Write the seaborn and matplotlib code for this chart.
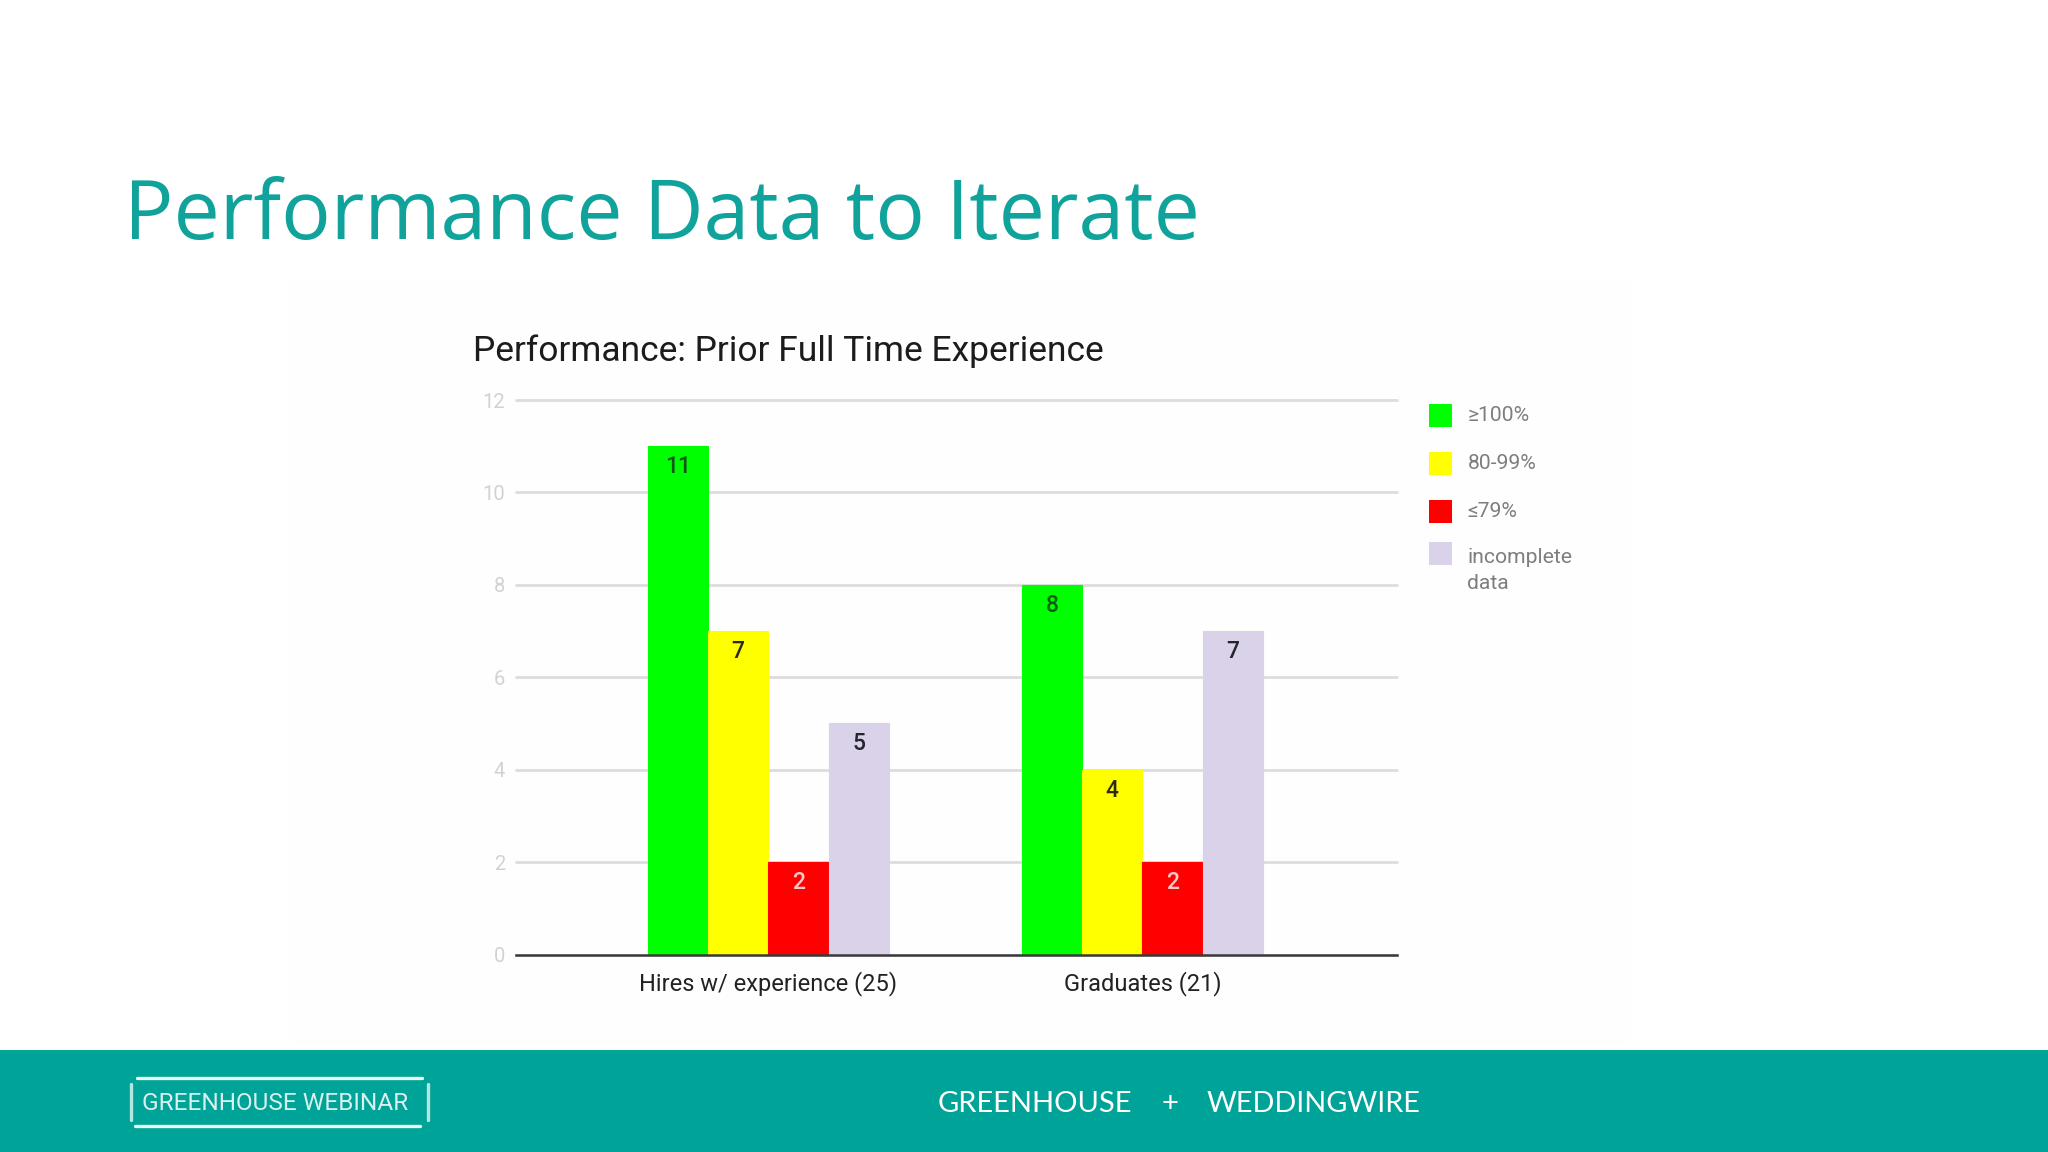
import matplotlib
matplotlib.use("Agg")
import matplotlib.pyplot as plt
from matplotlib.patches import Rectangle
from matplotlib.lines import Line2D
from matplotlib.legend_handler import HandlerPatch
import pandas as pd
import seaborn as sns

categories = ["Hires w/ experience (25)", "Graduates (21)"]
levels = ["≥100%", "80-99%", "≤79%", "incomplete\ndata"]
top_values = [11, 8]
mid_values = [7, 4]
low_values = [2, 2]
incomplete_values = [5, 7]
colors = ["#00FF00", "#FFFF00", "#FF0000", "#D9D2E9"]
label_colors = ["#0B5A14", "#2B2B10", "#FFC9C9", "#26242C"]
yticks = [0, 2, 4, 6, 8, 10, 12]

W, H = 2048, 1152
TEAL = "#00A398"

df = pd.DataFrame({
    "category": categories * 4,
    "level": [lv for lv in levels for _ in categories],
    "value": top_values + mid_values + low_values + incomplete_values,
})

sns.set_theme(style="white")
plt.rcParams["font.family"] = ["Roboto", "DejaVu Sans"]

fig = plt.figure(figsize=(W / 100, H / 100), dpi=100, facecolor="white")


def fx(x):
    return x / W


def fy(y):
    return 1 - y / H


# photo-like panel behind the chart and footer band
fig.patches.append(Rectangle((fx(290), fy(1045)), 1340 / W, 765 / H, transform=fig.transFigure,
                             facecolor="#FEFEFE", edgecolor="none", zorder=-5))
fig.patches.append(Rectangle((0, 0), 1, 102 / H, transform=fig.transFigure,
                             facecolor=TEAL, edgecolor="none", zorder=-4))

ax = fig.add_axes([fx(516), fy(954.5), 881 / W, 554.5 / H])
ax.patch.set_alpha(0)
sns.barplot(data=df, x="category", y="value", hue="level", hue_order=levels,
            order=categories, palette=colors, saturation=1, width=0.645, gap=0,
            legend=False, ax=ax)

for cont, lc in zip(ax.containers, label_colors):
    for p in cont:
        p.set_edgecolor(p.get_facecolor())
        p.set_linewidth(0.8)
        p.set_joinstyle("round")
    ax.bar_label(cont, label_type="edge", padding=-23, color=lc, fontsize=16.5,
                 fontweight="medium")

ax.set_xlim(-0.6745, 1.6805)
ax.set_ylim(0, 12)
ax.set_yticks(yticks)
ax.set_xlabel("")
ax.set_ylabel("")
for s in ["top", "left", "right"]:
    ax.spines[s].set_visible(False)
ax.spines["bottom"].set_color("#3A3A3A")
ax.spines["bottom"].set_linewidth(1.8)
ax.grid(axis="y", color="#DEDCDE", linewidth=2)
ax.grid(axis="x", visible=False)
ax.set_axisbelow(True)
for gl in ax.get_ygridlines():
    gl.set_clip_on(False)
ax.tick_params(axis="y", length=0, pad=8, labelsize=14.5, labelcolor="#D2D2D2")
ax.tick_params(axis="x", length=0, pad=12, labelsize=17, labelcolor="#222222")


class SwatchHandler(HandlerPatch):
    def __init__(self, lift=0, **kw):
        super().__init__(**kw)
        self.lift = lift

    def create_artists(self, legend, orig, xd, yd, w, h, fontsize, trans):
        r = Rectangle((-xd, -yd + self.lift - 2), w, w, facecolor=orig.get_facecolor(),
                      edgecolor="none", transform=trans)
        return [r]


handles = [Rectangle((0, 0), 1, 1, facecolor=c) for c in colors]
hmap = {h: SwatchHandler() for h in handles[:3]}
hmap[handles[3]] = SwatchHandler(lift=13.5)
leg = ax.legend(handles, levels, handler_map=hmap, loc="upper left",
                bbox_to_anchor=(fx(1429), fy(404)), bbox_transform=fig.transFigure,
                frameon=False, borderpad=0, borderaxespad=0, fontsize=15.2,
                handlelength=1.1, handleheight=1.1, handletextpad=0.72,
                labelspacing=1.26, labelcolor="#7E7E7E")
for t in leg.get_texts():
    t.set_linespacing(1.5)

# slide title
fig.text(fx(124), fy(218), "Performance Data to Iterate", color="#0FA39B", fontsize=59.3,
         family=["Open Sans", "DejaVu Sans"], va="center", ha="left")
# chart title
fig.text(fx(473), fy(351), "Performance: Prior Full Time Experience", color="#1C1C1C",
         fontsize=25.5, va="center", ha="left")
# footer
fig.text(fx(938), fy(1104), "GREENHOUSE", color="white", fontsize=21,
         family=["Lato", "DejaVu Sans"], va="center", ha="left")
fig.text(fx(1170), fy(1104), "+", color="white", fontsize=21,
         family=["Lato", "DejaVu Sans"], va="center", ha="center")
fig.text(fx(1207), fy(1104), "WEDDINGWIRE", color="white", fontsize=20.8,
         family=["Lato", "DejaVu Sans"], va="center", ha="left")
fig.text(fx(142), fy(1103), "GREENHOUSE WEBINAR", color="#D8F1EE", fontsize=17.6,
         family=["Roboto", "DejaVu Sans"], va="center", ha="left")
bars = [((137, 422), (1078, 1078), "#E6F7F5"), ((135, 420), (1126, 1126), "#E6F7F5"),
        ((131, 131), (1084, 1120), "#B5E5E0"), ((428, 428), (1084, 1120), "#B5E5E0")]
for xs, ys, c in bars:
    fig.add_artist(Line2D([fx(xs[0]), fx(xs[1])], [fy(ys[0]), fy(ys[1])],
                          color=c, linewidth=2.4, transform=fig.transFigure))

fig.savefig("out.png", dpi=100, facecolor="white")
